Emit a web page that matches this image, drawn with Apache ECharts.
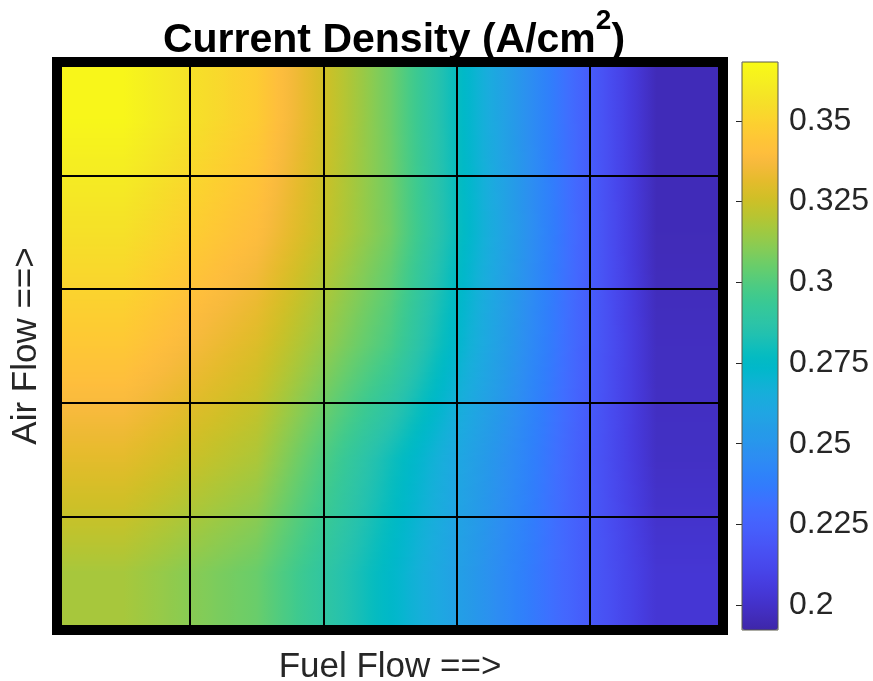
<!DOCTYPE html>
<html>
<head>
<meta charset="utf-8">
<title>Current Density</title>
<script src="https://cdn.jsdelivr.net/npm/echarts@6/dist/echarts.min.js"></script>
<style>
  html, body { margin: 0; padding: 0; background: #ffffff; }
  #chart { width: 873px; height: 681px; }
</style>
</head>
<body>
<div id="chart"></div>
<script>
// Operating grid: five fuel-flow settings (left to right) by five air-flow settings (bottom to top)
const fuelFlowLevels = [1, 2, 3, 4, 5];
const airFlowLevels = [1, 2, 3, 4, 5];

// Current density in A/cm^2, one list per air-flow setting, ordered by fuel flow
const densityAir1 = [0.317, 0.305, 0.274, 0.239, 0.203];
const densityAir2 = [0.331, 0.318, 0.280, 0.242, 0.199];
const densityAir3 = [0.345, 0.329, 0.298, 0.247, 0.198];
const densityAir4 = [0.356, 0.340, 0.307, 0.250, 0.196];
const densityAir5 = [0.366, 0.347, 0.306, 0.249, 0.196];
const densityRows = [densityAir1, densityAir2, densityAir3, densityAir4, densityAir5];

// Colour bar limits and tick labels
const colorLimits = [0.1923, 0.3682];
const colorbarTicks = [0.2, 0.225, 0.25, 0.275, 0.3, 0.325, 0.35];

// parula colour map
const PARULA = [
  [0.2422,0.1504,0.6603],[0.2504,0.1650,0.7076],[0.2578,0.1818,0.7511],[0.2647,0.1978,0.7952],
  [0.2706,0.2147,0.8364],[0.2751,0.2342,0.8710],[0.2783,0.2559,0.8991],[0.2803,0.2782,0.9221],
  [0.2813,0.3006,0.9414],[0.2810,0.3228,0.9579],[0.2795,0.3447,0.9717],[0.2760,0.3667,0.9829],
  [0.2699,0.3892,0.9906],[0.2602,0.4123,0.9952],[0.2440,0.4358,0.9988],[0.2206,0.4603,0.9973],
  [0.1963,0.4847,0.9892],[0.1834,0.5074,0.9798],[0.1786,0.5289,0.9682],[0.1764,0.5499,0.9520],
  [0.1687,0.5703,0.9359],[0.1540,0.5902,0.9218],[0.1460,0.6091,0.9079],[0.1380,0.6276,0.8973],
  [0.1248,0.6459,0.8883],[0.1113,0.6635,0.8763],[0.0952,0.6798,0.8598],[0.0689,0.6948,0.8394],
  [0.0297,0.7082,0.8163],[0.0036,0.7203,0.7917],[0.0067,0.7312,0.7660],[0.0433,0.7411,0.7394],
  [0.0964,0.7500,0.7120],[0.1408,0.7584,0.6842],[0.1717,0.7670,0.6554],[0.1938,0.7758,0.6251],
  [0.2161,0.7843,0.5923],[0.2470,0.7918,0.5567],[0.2906,0.7973,0.5188],[0.3406,0.8008,0.4789],
  [0.3909,0.8029,0.4354],[0.4456,0.8024,0.3909],[0.5044,0.7993,0.3480],[0.5616,0.7942,0.3045],
  [0.6174,0.7876,0.2612],[0.6720,0.7793,0.2227],[0.7242,0.7698,0.1910],[0.7738,0.7598,0.1646],
  [0.8203,0.7498,0.1535],[0.8634,0.7406,0.1596],[0.9035,0.7330,0.1774],[0.9393,0.7288,0.2100],
  [0.9728,0.7298,0.2394],[0.9956,0.7434,0.2371],[0.9970,0.7659,0.2199],[0.9952,0.7893,0.2028],
  [0.9892,0.8136,0.1885],[0.9786,0.8386,0.1766],[0.9676,0.8639,0.1643],[0.9610,0.8890,0.1537],
  [0.9597,0.9135,0.1423],[0.9628,0.9373,0.1265],[0.9691,0.9606,0.1064],[0.9769,0.9839,0.0805]
];
const parulaCss = PARULA.map(c => 'rgb(' + c.map(v => Math.round(v * 255)).join(',') + ')');

function densityColor(v) {
  let t = (v - colorLimits[0]) / (colorLimits[1] - colorLimits[0]);
  t = Math.max(0, Math.min(1, t)) * (PARULA.length - 1);
  const i = Math.min(PARULA.length - 2, Math.floor(t));
  const f = t - i;
  const a = PARULA[i], b = PARULA[i + 1];
  return 'rgb(' + [0, 1, 2].map(k => Math.round((a[k] + (b[k] - a[k]) * f) * 255)).join(',') + ')';
}

// Smooth (interpolated) shading between cell centres, held flat beyond the outer centres
function shadedDensity(fx, fy) {
  const n = densityRows.length - 1;
  const cx = Math.max(0, Math.min(n, fx - 0.5));
  const cy = Math.max(0, Math.min(n, fy - 0.5));
  const i0 = Math.min(n - 1, Math.floor(cx)), j0 = Math.min(n - 1, Math.floor(cy));
  const tx = cx - i0, ty = cy - j0;
  const r0 = densityRows[j0], r1 = densityRows[j0 + 1];
  const bottom = r0[i0] + (r0[i0 + 1] - r0[i0]) * tx;
  const top = r1[i0] + (r1[i0 + 1] - r1[i0]) * tx;
  return bottom + (top - bottom) * ty;
}

const cellData = [];
airFlowLevels.forEach((a, row) => {
  fuelFlowLevels.forEach((f, col) => {
    cellData.push([col, row, densityRows[row][col]]);
  });
});

function renderCell(params, api) {
  const col = api.value(0), row = api.value(1);
  const topLeft = api.coord([col, row + 1]);
  const bottomRight = api.coord([col + 1, row]);
  const x = topLeft[0], y = topLeft[1];
  const w = bottomRight[0] - x, h = bottomRight[1] - y;
  const strips = 48, stops = 20;
  const children = [];
  for (let s = 0; s < strips; s++) {
    const y0 = y + h * s / strips;
    const fy = row + 1 - (s + 0.5) / strips;
    const colorStops = [];
    for (let k = 0; k <= stops; k++) {
      colorStops.push({ offset: k / stops, color: densityColor(shadedDensity(col + k / stops, fy)) });
    }
    children.push({
      type: 'rect',
      silent: true,
      shape: { x: x, y: y0, width: w, height: h / strips + 0.8 },
      style: { fill: new echarts.graphic.LinearGradient(0, 0, 1, 0, colorStops) }
    });
  }
  return { type: 'group', children: children };
}

const FONT = '"Liberation Sans", Arial, Helvetica, sans-serif';
const chart = echarts.init(document.getElementById('chart'), null, { renderer: 'canvas' });

chart.setOption({
  animation: false,
  backgroundColor: '#ffffff',
  title: {
    text: '{m|Current Density (A/cm}{s|2}{m|)}',
    left: 389,
    top: 2,
    textAlign: 'center',
    textStyle: {
      rich: {
        m: { fontFamily: FONT, fontSize: 41, fontWeight: 'bold', color: '#000000', lineHeight: 54, verticalAlign: 'bottom' },
        s: { fontFamily: FONT, fontSize: 28, fontWeight: 'bold', color: '#000000', lineHeight: 30, verticalAlign: 'top' }
      }
    }
  },
  grid: [
    { left: 57, top: 62, width: 666, height: 568, outerBoundsMode: 'none', containLabel: false,
      show: true, borderColor: '#000000', borderWidth: 10, z: 10, backgroundColor: 'transparent' },
    { left: 742, top: 62, width: 36, height: 568, outerBoundsMode: 'none', containLabel: false,
      show: true, borderColor: '#5a5a4a', borderWidth: 1, z: 10, backgroundColor: 'transparent' }
  ],
  xAxis: [
    {
      gridIndex: 0, type: 'value', min: 0, max: fuelFlowLevels.length, interval: 1, z: 9,
      name: 'Fuel Flow ==>', nameLocation: 'middle', nameGap: 20,
      nameTextStyle: { fontFamily: FONT, fontSize: 35, color: '#262626' },
      axisLine: { show: false }, axisTick: { show: false }, axisLabel: { show: false },
      splitLine: { show: true, lineStyle: { color: '#000000', width: 2 } }
    },
    { gridIndex: 1, type: 'value', min: 0, max: 1, show: false }
  ],
  yAxis: [
    {
      gridIndex: 0, type: 'value', min: 0, max: airFlowLevels.length, interval: 1, z: 9,
      name: 'Air Flow ==>', nameLocation: 'middle', nameGap: 13,
      nameTextStyle: { fontFamily: FONT, fontSize: 35, color: '#262626' },
      axisLine: { show: false }, axisTick: { show: false }, axisLabel: { show: false },
      splitLine: { show: true, lineStyle: { color: '#000000', width: 2 } }
    },
    {
      gridIndex: 1, type: 'value', min: colorLimits[0], max: colorLimits[1], position: 'right',
      axisLine: { show: false },
      axisTick: { show: true, inside: true, length: 6, customValues: colorbarTicks, lineStyle: { color: '#262626', width: 1 } },
      axisLabel: { show: true, customValues: colorbarTicks, margin: 11, fontFamily: FONT, fontSize: 32, color: '#262626',
                   formatter: v => String(+v.toFixed(3)) },
      splitLine: { show: false }
    }
  ],
  visualMap: {
    type: 'continuous',
    min: colorLimits[0], max: colorLimits[1],
    seriesIndex: 0, dimension: 2,
    calculable: false, hoverLink: false,
    orient: 'vertical', left: 742, top: 62, padding: 0,
    itemWidth: 36, itemHeight: 568,
    text: ['', ''], showLabel: false,
    inRange: { color: parulaCss }
  },
  series: [
    {
      name: 'Current Density',
      type: 'custom',
      coordinateSystem: 'cartesian2d',
      xAxisIndex: 0, yAxisIndex: 0,
      z: 2,
      clip: true,
      renderItem: renderCell,
      data: cellData
    }
  ]
});
</script>
</body>
</html>
